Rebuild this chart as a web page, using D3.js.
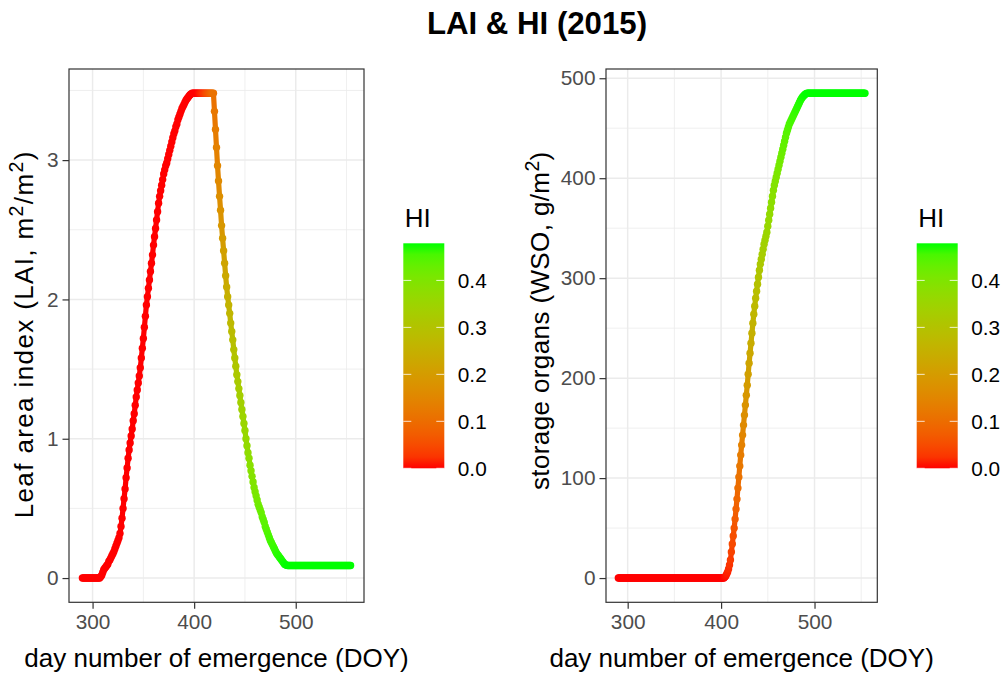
<!DOCTYPE html>
<html><head><meta charset="utf-8">
<script src="https://cdn.jsdelivr.net/npm/d3@7"></script>
<style>
body{margin:0;background:#fff}
text{font-family:"Liberation Sans",Arial,Helvetica,sans-serif}
</style></head>
<body><svg id="c" width="1003" height="676"></svg>
<script>
// ---- data ----
const firstDay = 290, lastDay = 554;           // day number of emergence (DOY), daily
const days = d3.range(firstDay, lastDay + 1);

const lai = [
 0,0,0,0,0,0,0,0,0,0,
 0,0,0,0,0,0,0,0,0.01,0.02,
 0.04,0.06,0.07,0.08,0.09,0.10,0.12,0.13,0.145,0.16,
 0.175,0.19,0.21,0.23,0.25,0.27,0.29,0.32,0.37,0.43,
 0.50,0.57,0.64,0.72,0.79,0.86,0.92,0.97,1.02,1.07,
 1.13,1.18,1.24,1.30,1.35,1.40,1.45,1.51,1.58,1.65,
 1.72,1.80,1.88,1.96,2.02,2.08,2.14,2.20,2.26,2.32,
 2.39,2.45,2.51,2.57,2.63,2.69,2.74,2.78,2.82,2.86,
 2.90,2.93,2.96,2.98,3.01,3.04,3.07,3.10,3.13,3.16,
 3.19,3.21,3.24,3.26,3.29,3.31,3.33,3.35,3.37,3.385,
 3.40,3.415,3.43,3.44,3.45,3.46,3.47,3.475,3.48,3.48,
 3.48,3.48,3.48,3.48,3.48,3.48,3.48,3.48,3.48,3.48,
 3.48,3.48,3.48,3.48,3.48,3.48,3.48,3.48,3.48,3.48,
 3.35,3.22,3.09,2.96,2.85,2.74,2.64,2.53,2.44,2.35,
 2.26,2.17,2.09,2.02,1.96,1.90,1.83,1.77,1.71,1.64,
 1.58,1.52,1.46,1.41,1.36,1.31,1.26,1.21,1.16,1.11,
 1.06,1.00,0.95,0.90,0.86,0.81,0.77,0.73,0.69,0.65,
 0.62,0.59,0.56,0.53,0.51,0.49,0.47,0.44,0.42,0.40,
 0.37,0.35,0.33,0.31,0.29,0.27,0.255,0.24,0.225,0.21,
 0.195,0.18,0.17,0.16,0.15,0.14,0.13,0.12,0.11,0.10,
 0.095,0.092,0.09,0.09,0.09,0.09,0.09,0.09,0.09,0.09,
 0.09,0.09,0.09,0.09,0.09,0.09,0.09,0.09,0.09,0.09,
 0.09,0.09,0.09,0.09,0.09,0.09,0.09,0.09,0.09,0.09,
 0.09,0.09,0.09,0.09,0.09,0.09,0.09,0.09,0.09,0.09,
 0.09,0.09,0.09,0.09,0.09,0.09,0.09,0.09,0.09,0.09,
 0.09,0.09,0.09,0.09,0.09,0.09,0.09,0.09,0.09,0.09,
 0.09,0.09,0.09,0.09,0.09
];

const wso = [
 0,0,0,0,0,0,0,0,0,0,
 0,0,0,0,0,0,0,0,0,0,
 0,0,0,0,0,0,0,0,0,0,
 0,0,0,0,0,0,0,0,0,0,
 0,0,0,0,0,0,0,0,0,0,
 0,0,0,0,0,0,0,0,0,0,
 0,0,0,0,0,0,0,0,0,0,
 0,0,0,0,0,0,0,0,0,0,
 0,0,0,0,0,0,0,0,0,0,
 0,0,0,0,0,0,0,0,0,0,
 0,0,0,0,0,0,0,0,0,0,
 0,0,0,0,1,2,4,6,9,13,
 18,26,34,42,50,59,69,79,90,101,
 112,123,133,143,153,163,173,183,193,204,
 215,225,235,245,255,264,272,280,287,294,
 301,308,314,319,324,329,334,338,342,346,
 352,358,364,370,376,382,388,393,397,401,
 405,409,413,417,421,425,429,433,437,441,
 445,448,451,454,456,458,460,462,464,466,
 468,470,472,474,476,478,479.5,481,482,483,
 484,484.5,485,485,485,485,485,485,485,485,
 485,485,485,485,485,485,485,485,485,485,
 485,485,485,485,485,485,485,485,485,485,
 485,485,485,485,485,485,485,485,485,485,
 485,485,485,485,485,485,485,485,485,485,
 485,485,485,485,485,485,485,485,485,485,
 485,485,485,485,485
];

const hi = [
 0,0,0,0,0,0,0,0,0,0,
 0,0,0,0,0,0,0,0,0,0,
 0,0,0,0,0,0,0,0,0,0,
 0,0,0,0,0,0,0,0,0,0,
 0,0,0,0,0,0,0,0,0,0,
 0,0,0,0,0,0,0,0,0,0,
 0,0,0,0,0,0,0,0,0,0,
 0,0,0,0,0,0,0,0,0,0,
 0,0,0,0,0,0,0,0,0,0,
 0,0,0,0,0,0,0,0,0,0,
 0,0,0,0,0,0,0,0,0,0,
 0,0,0,0,0.002,0.004,0.008,0.012,0.017,0.023,
 0.03,0.038,0.046,0.054,0.062,0.071,0.08,0.09,0.10,0.11,
 0.12,0.13,0.14,0.15,0.16,0.17,0.18,0.19,0.20,0.21,
 0.22,0.23,0.24,0.25,0.258,0.266,0.274,0.282,0.29,0.297,
 0.304,0.311,0.317,0.323,0.329,0.334,0.339,0.344,0.349,0.354,
 0.359,0.364,0.369,0.374,0.379,0.384,0.388,0.392,0.396,0.40,
 0.404,0.408,0.412,0.416,0.42,0.424,0.428,0.432,0.436,0.44,
 0.443,0.446,0.449,0.452,0.455,0.457,0.459,0.461,0.463,0.465,
 0.467,0.469,0.471,0.472,0.473,0.474,0.475,0.476,0.477,0.478,
 0.478,0.479,0.479,0.479,0.479,0.479,0.479,0.479,0.479,0.479,
 0.479,0.479,0.479,0.479,0.479,0.479,0.479,0.479,0.479,0.479,
 0.479,0.479,0.479,0.479,0.479,0.479,0.479,0.479,0.479,0.479,
 0.479,0.479,0.479,0.479,0.479,0.479,0.479,0.479,0.479,0.479,
 0.479,0.479,0.479,0.479,0.479,0.479,0.479,0.479,0.479,0.479,
 0.479,0.479,0.479,0.479,0.479,0.479,0.479,0.479,0.479,0.479,
 0.479,0.479,0.479,0.479,0.479
];

const xTicks = [300, 400, 500];
const xMinor = [350, 450, 550];
const laiTicks = [0, 1, 2, 3];
const laiMinor = [0.5, 1.5, 2.5, 3.5];
const wsoTicks = [0, 100, 200, 300, 400, 500];
const wsoMinor = [50, 150, 250, 350, 450];
const hiTicks = [0.0, 0.1, 0.2, 0.3, 0.4];

const titleText = "LAI & HI (2015)";
const xTitle = "day number of emergence (DOY)";
const legendTitle = "HI";

// ---- drawing ----
const svg = d3.select("#c");
const FONT_BASE = 26, FONT_TICK = 20.8;

const hiExtent = d3.extent(hi);
const color = d3.scaleLinear().domain(hiExtent).range(["#ff0000", "#00ff00"]).interpolate(d3.interpolateLab);

function expand(ext) { const r = ext[1] - ext[0]; return [ext[0] - 0.05 * r, ext[1] + 0.05 * r]; }

// gradient for colourbar
const defs = svg.append("defs");
const grad = defs.append("linearGradient").attr("id", "hiGrad")
  .attr("x1", 0).attr("y1", 1).attr("x2", 0).attr("y2", 0);
d3.range(0, 21).forEach(i => {
  const t = i / 20;
  grad.append("stop").attr("offset", t).attr("stop-color", color(hiExtent[0] + t * (hiExtent[1] - hiExtent[0])));
});

const panels = [
  { vals: lai, left: 69, right: 364, top: 69, bottom: 602.3, ticks: laiTicks, minor: laiMinor,
    yfmt: d3.format("d"), legendX: 403.3,
    ylab: [["Leaf area index (LAI, m", 0], ["2", 1], ["/m", 0], ["2", 1], [")", 0]],
    ylabX: 33.3, ylabStart: 518.3, ylabLen: 366.7 },
  { vals: wso, left: 606, right: 877.3, top: 69, bottom: 602.3, ticks: wsoTicks, minor: wsoMinor,
    yfmt: d3.format("d"), legendX: 916.7,
    ylab: [["storage organs (WSO, g/m", 0], ["2", 1], [")", 0]],
    ylabX: 549, ylabStart: 490, ylabLen: 338.3 }
];

panels.forEach(p => {
  const x = d3.scaleLinear().domain(expand(d3.extent(days))).range([p.left, p.right]);
  const y = d3.scaleLinear().domain(expand(d3.extent(p.vals))).range([p.bottom, p.top]);
  const g = svg.append("g");

  // minor grid
  g.selectAll(".gxm").data(xMinor).join("line")
    .attr("x1", d => x(d)).attr("x2", d => x(d)).attr("y1", p.top).attr("y2", p.bottom)
    .attr("stroke", "#ebebeb").attr("stroke-width", 0.8);
  g.selectAll(".gym").data(p.minor).join("line")
    .attr("y1", d => y(d)).attr("y2", d => y(d)).attr("x1", p.left).attr("x2", p.right)
    .attr("stroke", "#ebebeb").attr("stroke-width", 0.8);
  // major grid
  g.selectAll(".gx").data(xTicks).join("line")
    .attr("x1", d => x(d)).attr("x2", d => x(d)).attr("y1", p.top).attr("y2", p.bottom)
    .attr("stroke", "#ebebeb").attr("stroke-width", 1.5);
  g.selectAll(".gy").data(p.ticks).join("line")
    .attr("y1", d => y(d)).attr("y2", d => y(d)).attr("x1", p.left).attr("x2", p.right)
    .attr("stroke", "#ebebeb").attr("stroke-width", 1.5);

  const pts = days.map((d, i) => ({ d, v: p.vals[i], h: hi[i] }));
  // line segments coloured by HI of the starting point
  g.selectAll(".seg").data(pts.slice(0, -1)).join("line")
    .attr("x1", (o) => x(o.d)).attr("y1", o => y(o.v))
    .attr("x2", (o, i) => x(pts[i + 1].d)).attr("y2", (o, i) => y(pts[i + 1].v))
    .attr("stroke", o => color(o.h)).attr("stroke-width", 5.2).attr("stroke-linecap", "round");
  // points
  g.selectAll("circle").data(pts).join("circle")
    .attr("cx", o => x(o.d)).attr("cy", o => y(o.v)).attr("r", 3.7)
    .attr("fill", o => color(o.h));

  // border
  g.append("rect").attr("x", p.left).attr("y", p.top)
    .attr("width", p.right - p.left).attr("height", p.bottom - p.top)
    .attr("fill", "none").attr("stroke", "#333333").attr("stroke-width", 1.2);

  // axes
  const ax = g.append("g").attr("transform", `translate(0,${p.bottom})`)
    .call(d3.axisBottom(x).tickValues(xTicks).tickFormat(d3.format("d")).tickSize(6.5).tickPadding(5));
  const ay = g.append("g").attr("transform", `translate(${p.left},0)`)
    .call(d3.axisLeft(y).tickValues(p.ticks).tickFormat(p.yfmt).tickSize(6.5).tickPadding(4));
  [ax, ay].forEach(a => {
    a.select(".domain").remove();
    a.selectAll(".tick line").attr("stroke", "#333333").attr("stroke-width", 1.2);
    a.selectAll(".tick text").attr("fill", "#4d4d4d").style("font-size", FONT_TICK + "px")
      .style("font-family", '"Liberation Sans",Arial,sans-serif');
  });

  // x title
  g.append("text").attr("x", (p.left + p.right) / 2).attr("y", 667)
    .attr("text-anchor", "middle").style("font-size", FONT_BASE + "px").attr("fill", "#000")
    .text(xTitle);

  // y title (with superscripts)
  const yt = g.append("text")
    .attr("transform", `translate(${p.ylabX},${p.ylabStart}) rotate(-90)`)
    .attr("text-anchor", "start").style("font-size", FONT_BASE + "px").attr("fill", "#000")
    .attr("textLength", p.ylabLen).attr("lengthAdjust", "spacing");
  p.ylab.forEach(([s, sup], k) => {
    const t = yt.append("tspan").text(s);
    if (sup) t.style("font-size", (FONT_BASE * 0.75) + "px").attr("dy", -10);
    else if (k > 0) t.attr("dy", 10);
  });

  // legend
  const lx = p.legendX, lw = 41, ltop = 243.3, lbot = 468.3;
  const ly = d3.scaleLinear().domain(hiExtent).range([lbot, ltop]);
  svg.append("text").attr("x", lx + 1.5).attr("y", 226.5).style("font-size", FONT_BASE + "px")
    .attr("fill", "#000").text(legendTitle);
  svg.append("rect").attr("x", lx).attr("y", ltop).attr("width", lw).attr("height", lbot - ltop)
    .attr("fill", "url(#hiGrad)");
  const lg = svg.append("g");
  hiTicks.forEach(v => {
    lg.append("line").attr("x1", lx).attr("x2", lx + 8).attr("y1", ly(v)).attr("y2", ly(v))
      .attr("stroke", "#fff").attr("stroke-opacity", 0.8).attr("stroke-width", 1);
    lg.append("line").attr("x1", lx + lw - 8).attr("x2", lx + lw).attr("y1", ly(v)).attr("y2", ly(v))
      .attr("stroke", "#fff").attr("stroke-opacity", 0.8).attr("stroke-width", 1);
  });
  lg.selectAll("text").data(hiTicks).join("text")
    .attr("x", lx + lw + 13.5).attr("y", d => ly(d)).attr("dy", "0.36em")
    .style("font-size", FONT_TICK + "px").attr("fill", "#000").text(d => d3.format(".1f")(d));
});

// title
svg.append("text").attr("x", 537).attr("y", 34).attr("text-anchor", "middle")
  .style("font-size", "31.2px").style("font-weight", "bold").attr("fill", "#000").text(titleText);
</script>
</body></html>
